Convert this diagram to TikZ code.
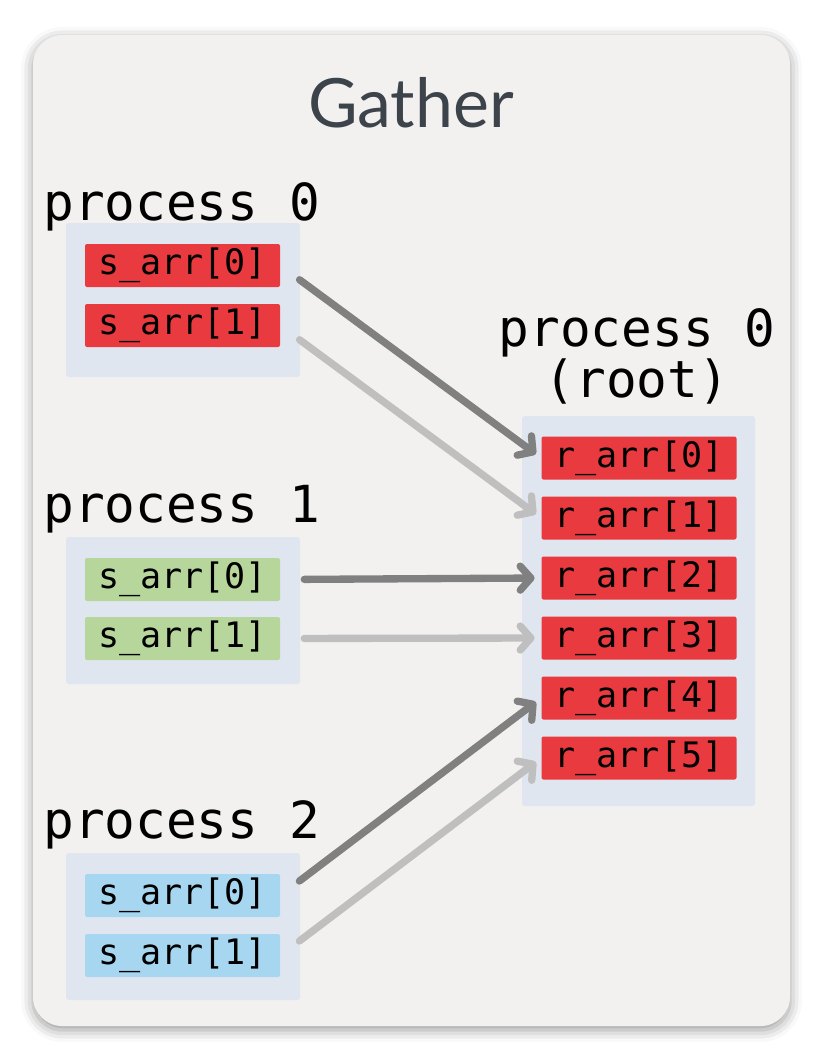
\documentclass[tikz,border=0pt]{standalone}
\usepackage{fontspec}
\setmainfont{Lato}
\newfontfamily\codefont{DejaVu Sans Mono}
\usetikzlibrary{arrows.meta,shadows.blur}

\definecolor{panelbg}{HTML}{F2F1EF}
\definecolor{groupbg}{HTML}{E0E6F0}
\definecolor{cellred}{HTML}{E83A3F}
\definecolor{cellgreen}{HTML}{B6D69C}
\definecolor{cellblue}{HTML}{A7D7F0}
\definecolor{titlegray}{HTML}{3D434B}
\definecolor{darkarrow}{HTML}{808080}
\definecolor{lightarrow}{HTML}{BFBFBF}

\begin{document}
\begin{tikzpicture}[x=0.75pt,y=-0.75pt,
    group/.style={fill=groupbg, rounded corners=2pt, minimum width=175.5pt, inner sep=0pt},
    cell/.style={rounded corners=1.5pt, minimum width=146.25pt, minimum height=32.25pt, inner sep=0pt,
        font=\codefont\fontsize{26.3}{26}\selectfont, text=black},
    proc/.style={font=\codefont\fontsize{38.3}{34}\selectfont, inner sep=0pt},
    send/.style={line width=5.5pt, line cap=round, shorten <=18pt, shorten >=5pt,
        -{Straight Barb[length=8pt,width=18pt,round]}}]
    \useasboundingbox (0,0) rectangle (830,1064);

    % Panel
    \fill[panelbg, rounded corners=22pt,
        blur shadow={shadow xshift=0pt, shadow yshift=-3pt, shadow blur radius=9pt, shadow opacity=40}]
        (33,35) rectangle (790,1026);
    \node[font=\fontsize{51}{51}\selectfont, text=titlegray] (title) at (411,103) {Gather};

    % Senders
    \node[proc, anchor=base west] (p0) at (43,220) {process 0};
    \node[group, minimum height=115.5pt] (g0) at (183,300) {};
    \node[cell, fill=cellred] (s00) at (182.5,265.5) {s\_arr[0]};
    \node[cell, fill=cellred] (s01) at (182.5,325.5) {s\_arr[1]};

    \node[proc, anchor=base west] (p1) at (43,522) {process 1};
    \node[group, minimum height=110.25pt] (g1) at (183,610.5) {};
    \node[cell, fill=cellgreen] (s10) at (182.5,579.5) {s\_arr[0]};
    \node[cell, fill=cellgreen] (s11) at (182.5,638.5) {s\_arr[1]};

    \node[proc, anchor=base west] (p2) at (43,838) {process 2};
    \node[group, minimum height=110.25pt] (g2) at (183,926.5) {};
    \node[cell, fill=cellblue] (s20) at (182.5,895.5) {s\_arr[0]};
    \node[cell, fill=cellblue] (s21) at (182.5,955.5) {s\_arr[1]};

    % Root
    \node[proc, align=center, anchor=base] (root) at (637,397) {process 0\\(root)};
    \node[group, minimum width=174.75pt, minimum height=292.5pt] (gr) at (638.5,611) {};
    \foreach \i in {0,...,5}
        \node[cell, fill=cellred] (r\i) at (639,458+60*\i) {r\_arr[\i]};

    % Gather arrows
    \draw[send, darkarrow] (s00.east) -- (r0.west);
    \draw[send, lightarrow] (s01.east) -- (r1.west);
    \draw[send, darkarrow] (s10.east) -- (r2.west);
    \draw[send, lightarrow] (s11.east) -- (r3.west);
    \draw[send, darkarrow] (s20.east) -- (r4.west);
    \draw[send, lightarrow] (s21.east) -- (r5.west);
\end{tikzpicture}
\end{document}
